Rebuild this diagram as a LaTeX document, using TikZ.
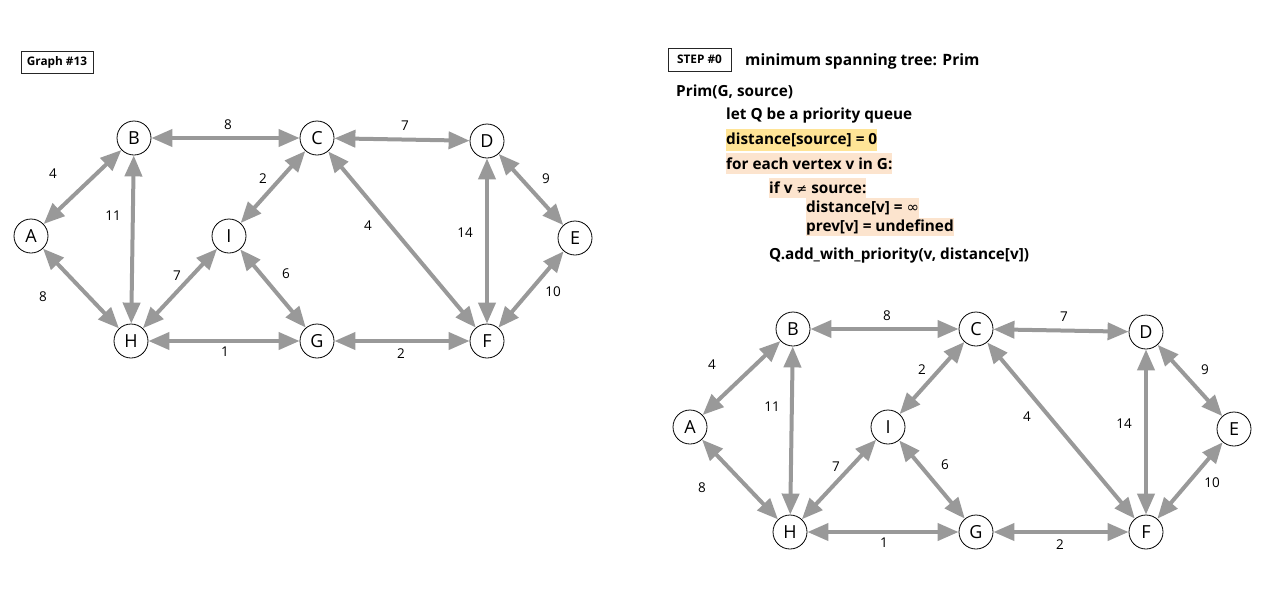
\documentclass[tikz,border=0pt]{standalone}
\usepackage{fontspec}
\setmainfont{Open Sans}
\newfontfamily\symfont{DejaVu Sans}
\usetikzlibrary{arrows.meta}
\definecolor{edgegray}{RGB}{153,153,153}
\definecolor{hlyellow}{RGB}{255,228,150}
\definecolor{hlpeach}{RGB}{252,228,206}
\newcommand\mygraph{%
  \node[vert] (A) at (31,236) {A};
  \node[vert] (B) at (134,138) {B};
  \node[vert] (C) at (317,138) {C};
  \node[vert] (D) at (487,141) {D};
  \node[vert] (E) at (575,238) {E};
  \node[vert] (F) at (487,341) {F};
  \node[vert] (G) at (317,341) {G};
  \node[vert] (H) at (131,341) {H};
  \node[vert] (I) at (229,236) {I};
  \draw[edge] (A) -- (B);
  \draw[edge] (A) -- (H);
  \draw[edge] (B) -- (C);
  \draw[edge] (B) -- (H);
  \draw[edge] (C) -- (I);
  \draw[edge] (C) -- (D);
  \draw[edge] (C) -- (F);
  \draw[edge] (D) -- (F);
  \draw[edge] (D) -- (E);
  \draw[edge] (E) -- (F);
  \draw[edge] (H) -- (I);
  \draw[edge] (I) -- (G);
  \draw[edge] (H) -- (G);
  \draw[edge] (G) -- (F);
  \node[wlab] (lBC) at (228,125) {8};
  \node[wlab] (lCD) at (405,126) {7};
  \node[wlab] (lAB) at (53,174) {4};
  \node[wlab] (lBH) at (113,216) {11};
  \node[wlab] (lCI) at (263,179) {2};
  \node[wlab] (lHI) at (177,276) {7};
  \node[wlab] (lIG) at (286,274) {6};
  \node[wlab] (lAH) at (43,297) {8};
  \node[wlab] (lHG) at (225,352) {1};
  \node[wlab] (lGF) at (401,354) {2};
  \node[wlab] (lCF) at (368,226) {4};
  \node[wlab] (lDF) at (465,233) {14};
  \node[wlab] (lDE) at (546,179) {9};
  \node[wlab] (lEF) at (553,292) {10};
}
\begin{document}
\begin{tikzpicture}[x=1pt,y=-1pt,
  vert/.style={circle,draw=black,line width=0.8pt,fill=white,minimum size=34pt,inner sep=0pt,font=\fontsize{18}{18}\selectfont},
  edge/.style={draw=edgegray,line width=4pt,{Triangle[length=21pt,width=17pt]}-{Triangle[length=21pt,width=17pt]}},
  wlab/.style={font=\fontsize{13.5}{13.5}\selectfont,inner sep=0pt},
  tag/.style={draw=black!85,line width=1pt,inner sep=0pt,font=\bfseries\fontsize{11.8}{11.8}\selectfont},
  code/.style={anchor=west,inner xsep=0pt,inner ysep=0pt,minimum height=20pt,font=\bfseries\fontsize{15.3}{15.3}\selectfont},
  hly/.style={fill=hlyellow},
  hlp/.style={fill=hlpeach}]
\useasboundingbox (0,0) rectangle (1282,606);
% left graph
\node[tag,minimum width=72pt,minimum height=22pt] (g13) at (57,62) {Graph \#13};
\begin{scope}[name prefix=l-]
\mygraph
\end{scope}
% right panel
\node[tag,minimum width=63pt,minimum height=23pt] (step) at (699.5,59.5) {STEP \#0};
\node[code,font=\bfseries\fontsize{15.6}{15.6}\selectfont] (title) at (745,61.5) {minimum spanning tree: Prim};
\node[code] (c1) at (676,91.5) {Prim(G, source)};
\node[code] (c2) at (726,115.5) {let Q be a priority queue};
\node[code,hly,minimum height=22pt] (c3) at (726,140) {distance[source] = 0};
\node[code,hlp,minimum height=21pt] (c4) at (726,163.5) {for each vertex v in G:};
\node[code,hlp] (c5) at (769,188) {if v {\symfont\mdseries\fontsize{13}{13}\selectfont ≠} source:};
\node[code,hlp] (c6) at (806,208) {distance[v] = {\symfont\mdseries\fontsize{15}{15}\selectfont ∞}};
\node[code,hlp,minimum height=18pt] (c7) at (806,227) {prev[v] = undefined};
\node[code] (c8) at (769,255.5) {Q.add\_with\_priority(v, distance[v])};
\begin{scope}[shift={(659,191)},name prefix=r-]
\mygraph
\end{scope}
\end{tikzpicture}
\end{document}
